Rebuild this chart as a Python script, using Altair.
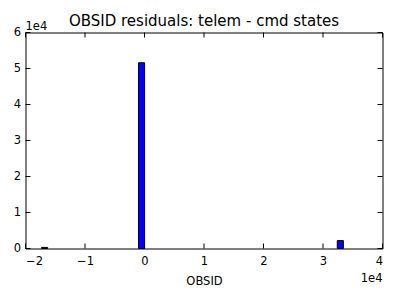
import altair as alt
import pandas as pd

# Histogram bins (OBSID residual, counts)
bin_left = [-17300, -1000, 32400]
bin_right = [-16280, 20, 33420]
counts = [300, 51600, 2200]

x_ticks = [-20000, -10000, 0, 10000, 20000, 30000, 40000]
y_ticks = [0, 10000, 20000, 30000, 40000, 50000, 60000]

W, H = 357, 216
FONT = "DejaVu Sans"

bars_df = pd.DataFrame({"left": bin_left, "right": bin_right, "count": counts})
xt_df = pd.DataFrame({"v": x_ticks})
yt_df = pd.DataFrame({"v": y_ticks})

xscale = alt.Scale(domain=[-20000, 40000], nice=False, zero=False)
yscale = alt.Scale(domain=[0, 60000], nice=False)

LBL = "replace(format(datum.value / 10000, 'd'), '-', '\u2212')"

xaxis = alt.Axis(
    values=x_ticks, labelExpr=LBL, title="OBSID",
    tickSize=0, domain=False, grid=False, labelPadding=7,
    labelFontSize=11.5, labelFont=FONT, labelColor="black",
    titleFont=FONT, titleFontSize=11.5, titleFontWeight="normal",
    titleColor="black", titlePadding=8)
yaxis = alt.Axis(
    values=y_ticks, labelExpr=LBL, title=None,
    tickSize=0, domain=False, grid=False, labelPadding=5,
    labelFontSize=11.5, labelFont=FONT, labelColor="black")

bars = alt.Chart(bars_df).mark_rect(
    color="#0000ff", stroke="black", strokeWidth=1
).encode(
    x=alt.X("left:Q", scale=xscale, axis=xaxis),
    x2="right:Q",
    y=alt.Y("count:Q", scale=yscale, axis=yaxis),
    y2=alt.datum(0),
)

top_t = alt.Chart(xt_df).mark_rule(color="black").encode(
    x=alt.X("v:Q", scale=xscale, axis=xaxis), y=alt.value(0), y2=alt.value(5))
bot_t = alt.Chart(xt_df).mark_rule(color="black").encode(
    x=alt.X("v:Q", scale=xscale, axis=xaxis), y=alt.value(H - 5), y2=alt.value(H))
left_t = alt.Chart(yt_df).mark_rule(color="black").encode(
    y=alt.Y("v:Q", scale=yscale, axis=yaxis), x=alt.value(0), x2=alt.value(5))
right_t = alt.Chart(yt_df).mark_rule(color="black").encode(
    y=alt.Y("v:Q", scale=yscale, axis=yaxis), x=alt.value(W - 5), x2=alt.value(W))

title = alt.Chart(pd.DataFrame({"t": ["OBSID residuals: telem - cmd states"]})).mark_text(
    align="center", baseline="alphabetic", font=FONT, fontSize=15, color="black"
).encode(text="t:N", x=alt.value(W / 2), y=alt.value(-7))
off_tl = alt.Chart(pd.DataFrame({"t": ["1e4"]})).mark_text(
    align="left", baseline="alphabetic", font=FONT, fontSize=11.5, color="black"
).encode(text="t:N", x=alt.value(0), y=alt.value(-3))
off_br = alt.Chart(pd.DataFrame({"t": ["1e4"]})).mark_text(
    align="right", baseline="alphabetic", font=FONT, fontSize=11.5, color="black"
).encode(text="t:N", x=alt.value(W), y=alt.value(H + 33))

chart = alt.layer(bars, top_t, bot_t, left_t, right_t, title, off_tl, off_br).properties(
    width=W, height=H,
    autosize=alt.AutoSizeParams(type="none"),
    padding={"left": 25.5, "top": 32.5, "right": 17.5, "bottom": 51.5},
    background="white",
).configure_view(stroke="black", strokeWidth=1)

chart.save("out.html", embed_options={"renderer": "svg", "actions": False})
